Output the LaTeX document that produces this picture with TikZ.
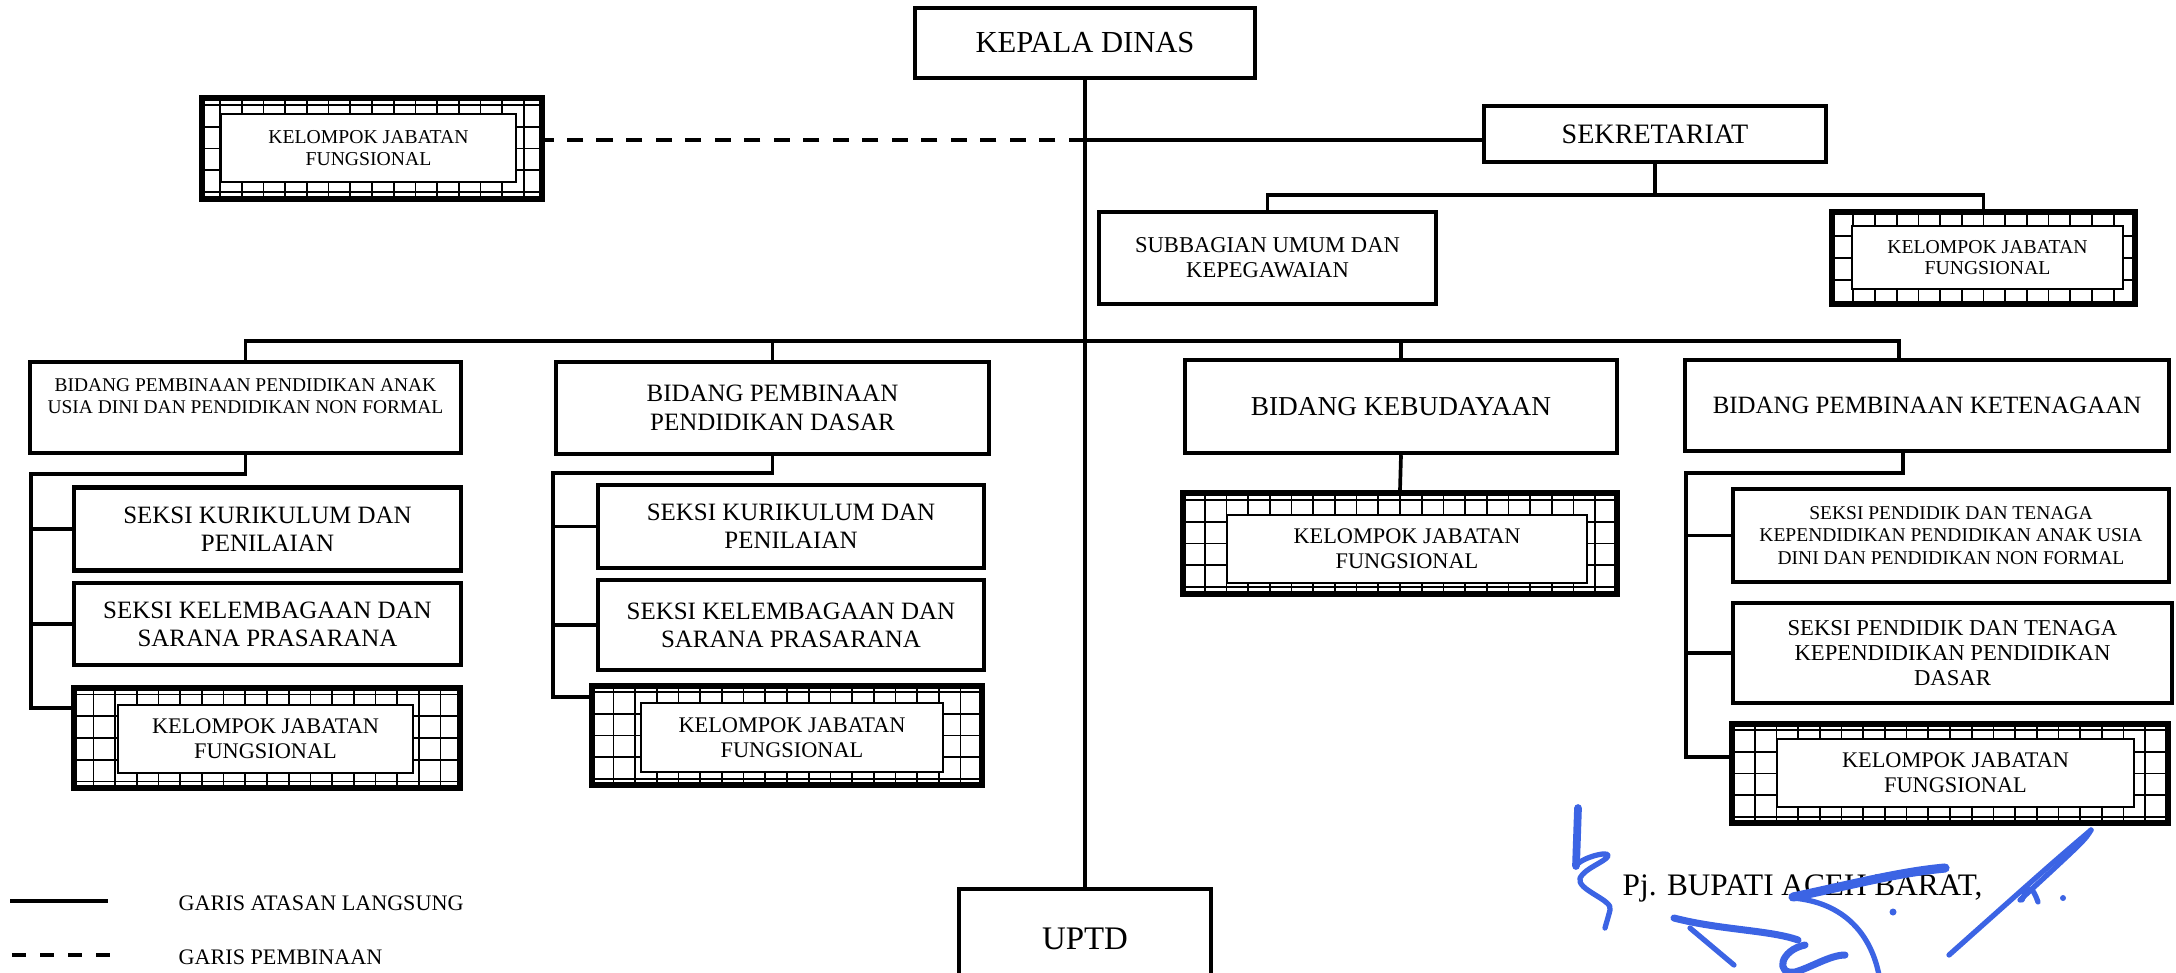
\documentclass[tikz,border=0pt]{standalone}
\usepackage{fontspec}
\setmainfont{Liberation Serif}
\usetikzlibrary{calc}
\definecolor{inkblue}{RGB}{60,100,228}
\def\fsz#1#2{\fontsize{#1}{#2}\selectfont}

\begin{document}
\begin{tikzpicture}[
	unit/.style={draw, line width=1.25pt, align=center, inner sep=0pt},
	kjf/.style={draw, line width=1.5pt, inner sep=0pt,
		path picture={\draw[line width=0.5pt, step=0.217] (path picture bounding box.south west) grid (path picture bounding box.north east);}},
	kjfin/.style={draw, fill=white, line width=0.4pt, align=center, inner sep=0pt},
	link/.style={line width=1.05pt},
	guide/.style={line width=1.05pt, dash pattern=on 4.6pt off 3.8pt},
	sig/.style={draw=inkblue, line width=1.5pt, line cap=round, line join=round}]
			%%%%% START %%%%%
			\useasboundingbox (0,0) rectangle (21.76,-9.72);
			
			\node[unit, minimum width=3.40cm, minimum height=0.70cm, font=\fsz{8.7}{10}] (kadis) at (10.85,-0.43) {KEPALA DINAS};
			\node[unit, minimum width=3.42cm, minimum height=0.56cm, font=\fsz{8}{9.5}] (sekre) at (16.55,-1.34) {SEKRETARIAT};
			
			\node[kjf, minimum width=3.40cm, minimum height=1.01cm] (kjfA) at (3.72,-1.485) {};
			\node[kjfin, minimum width=2.95cm, minimum height=0.68cm, font=\fsz{5.6}{6.2}] (kjfAin) at (3.685,-1.48) {KELOMPOK JABATAN\\FUNGSIONAL};
			
			\node[unit, minimum width=3.37cm, minimum height=0.92cm, font=\fsz{6.43}{7.1}] (subum) at (12.675,-2.58) {SUBBAGIAN UMUM DAN\\KEPEGAWAIAN};
			\node[kjf, minimum width=3.03cm, minimum height=0.92cm] (kjfB) at (19.835,-2.58) {};
			\node[kjfin, minimum width=2.71cm, minimum height=0.63cm, font=\fsz{5.6}{6.2}] (kjfBin) at (19.875,-2.575) {KELOMPOK JABATAN\\FUNGSIONAL};
			
			%%%%% BIDANG %%%%%
			\node[unit, minimum width=4.31cm, minimum height=0.91cm, font=\fsz{5.53}{6.5}] (bidA) at (2.455,-4.075) {BIDANG PEMBINAAN PENDIDIKAN ANAK\\USIA DINI DAN PENDIDIKAN NON FORMAL\\\mbox{}};
			\node[unit, minimum width=4.33cm, minimum height=0.92cm, font=\fsz{7.1}{8.25}] (bidB) at (7.725,-4.08) {BIDANG PEMBINAAN\\PENDIDIKAN DASAR};
			\node[unit, minimum width=4.32cm, minimum height=0.93cm, font=\fsz{7.77}{9}] (bidC) at (14.01,-4.065) {BIDANG KEBUDAYAAN};
			\node[unit, minimum width=4.84cm, minimum height=0.91cm, font=\fsz{7.08}{8.2}] (bidD) at (19.27,-4.055) {BIDANG PEMBINAAN KETENAGAAN};
			
			\node[unit, minimum width=3.87cm, minimum height=0.83cm, font=\fsz{7.1}{8}] (sA1) at (2.675,-5.29) {SEKSI KURIKULUM DAN\\PENILAIAN};
			\node[unit, minimum width=3.87cm, minimum height=0.82cm, font=\fsz{7.1}{8}] (sA2) at (2.675,-6.24) {SEKSI KELEMBAGAAN DAN\\SARANA PRASARANA};
			\node[kjf, minimum width=3.86cm, minimum height=1.00cm] (kjfC1) at (2.67,-7.38) {};
			\node[kjfin, minimum width=2.95cm, minimum height=0.68cm, font=\fsz{6.35}{7.1}] (kjfC1in) at (2.655,-7.39) {KELOMPOK JABATAN\\FUNGSIONAL};
			
			\node[unit, minimum width=3.86cm, minimum height=0.83cm, font=\fsz{7.1}{8}] (sB1) at (7.91,-5.265) {SEKSI KURIKULUM DAN\\PENILAIAN};
			\node[unit, minimum width=3.86cm, minimum height=0.90cm, font=\fsz{7.1}{8}] (sB2) at (7.91,-6.25) {SEKSI KELEMBAGAAN DAN\\SARANA PRASARANA};
			\node[kjf, minimum width=3.90cm, minimum height=0.99cm] (kjfC2) at (7.87,-7.355) {};
			\node[kjfin, minimum width=3.02cm, minimum height=0.69cm, font=\fsz{6.35}{7.1}] (kjfC2in) at (7.92,-7.375) {KELOMPOK JABATAN\\FUNGSIONAL};
			
			\node[kjf, minimum width=4.34cm, minimum height=1.01cm] (kjfC3) at (14.00,-5.435) {};
			\node[kjfin, minimum width=3.60cm, minimum height=0.68cm, font=\fsz{6.35}{7.1}] (kjfC3in) at (14.07,-5.49) {KELOMPOK JABATAN\\FUNGSIONAL};
			
			\node[unit, minimum width=4.36cm, minimum height=0.93cm, font=\fsz{5.55}{6.3}] (sD1) at (19.51,-5.355) {SEKSI PENDIDIK DAN TENAGA\\KEPENDIDIKAN PENDIDIKAN ANAK USIA\\DINI DAN PENDIDIKAN NON FORMAL};
			\node[unit, minimum width=4.39cm, minimum height=1.00cm, font=\fsz{6.46}{7.1}] (sD2) at (19.525,-6.53) {SEKSI PENDIDIK DAN TENAGA\\KEPENDIDIKAN PENDIDIKAN\\DASAR};
			\node[kjf, minimum width=4.36cm, minimum height=0.99cm] (kjfC4) at (19.50,-7.735) {};
			\node[kjfin, minimum width=3.57cm, minimum height=0.68cm, font=\fsz{6.35}{7.1}] (kjfC4in) at (19.555,-7.73) {KELOMPOK JABATAN\\FUNGSIONAL};
			
			\node[unit, minimum width=2.52cm, minimum height=1.00cm, font=\fsz{9.36}{11}] (uptd) at (10.85,-9.39) {UPTD};
			
			%%%%% LINES %%%%%
			\path (kadis.south) ++(0,-0.60) coordinate (jS);
			\path (kadis.south) ++(0,-2.61) coordinate (jB);
			\path (sekre.south) ++(0,-0.31) coordinate (jT);
			\coordinate (busA) at (0.31,-4.74);
			\coordinate (busB) at (5.53,-4.73);
			\coordinate (busD) at (16.86,-4.73);
			
			\draw[link] (kadis.south) -- (uptd.north);
			\draw[link] (jS) -- (jS -| sekre.west);
			\draw[guide] (jS) -- (jS -| kjfA.east);
			\draw[link] (sekre.south) -- (jT);
			\draw[link] (subum.north) |- (jT) -| (kjfB.north);
			
			\draw[link] (bidA.north) |- ([xshift=-2.8mm]bidD.north |- jB) -- ([xshift=-2.8mm]bidD.north);
			\draw[link] (bidB.north) -- (bidB.north |- jB);
			\draw[link] (bidC.north) -- (bidC.north |- jB);
			
			\draw[link] (bidA.south) |- (busA) |- ([yshift=3mm]kjfC1.west);
			\draw[link] (busA) |- (sA1.west);
			\draw[link] (busA) |- (sA2.west);
			
			\draw[link] (bidB.south) |- (busB) |- ([yshift=3.85mm]kjfC2.west);
			\draw[link] (busB) |- (sB1.west);
			\draw[link] (busB) |- (sB2.west);
			
			\draw[link] (bidC.south) -- (kjfC3.north);
			
			\draw[link] ([xshift=-2.4mm]bidD.south) |- (busD) |- ([yshift=1.65mm]kjfC4.west);
			\draw[link] (busD) |- (sD1.west);
			\draw[link] (busD) |- (sD2.west);
			
			%%%%% LEGEND %%%%%
			\draw[line width=1.05pt] (0.10,-9.01) -- (1.08,-9.01);
			\node[anchor=west, inner sep=0pt, font=\fsz{6.3}{7}] (lgA) at (1.78,-9.03) {GARIS ATASAN LANGSUNG};
			\draw[line width=1.05pt, dash pattern=on 4pt off 4pt] (0.12,-9.55) -- (1.12,-9.55);
			\node[anchor=west, inner sep=0pt, font=\fsz{6.3}{7}] (lgB) at (1.78,-9.57) {GARIS PEMBINAAN};
			
			\node[anchor=west, inner sep=0pt, font=\fsz{8.9}{10}] (pj) at (16.22,-8.88) {Pj. BUPATI ACEH BARAT,};
			
			%%%%% SIGNATURE %%%%%
			\draw[sig, line width=2.2pt] (15.78,-8.08) -- (15.76,-8.66);
			\draw[sig] (15.76,-8.66) .. controls (15.80,-8.58) and (16.10,-8.50) .. (16.08,-8.56) .. controls (16.05,-8.62) and (15.85,-8.68) .. (15.80,-8.78) .. controls (15.76,-8.90) and (16.14,-9.00) .. (16.10,-9.10) .. controls (16.08,-9.18) and (16.06,-9.24) .. (16.05,-9.28);
			\draw[sig, line width=2.6pt] (17.93,-8.97) .. controls (18.50,-8.85) and (19.00,-8.72) .. (19.45,-8.68);
			\draw[sig] (17.93,-8.98) .. controls (18.40,-9.02) and (18.70,-9.30) .. (18.79,-9.75);
			\fill[inkblue] (18.93,-9.12) circle (0.035);
			\draw[sig, line width=2pt] (16.74,-9.18) .. controls (17.20,-9.30) and (17.70,-9.30) .. (17.98,-9.40);
			\draw[sig] (16.90,-9.28) -- (17.34,-9.65);
			\draw[sig, line width=2pt] (18.05,-9.45) .. controls (17.80,-9.50) and (17.75,-9.75) .. (17.95,-9.72) .. controls (18.10,-9.68) and (18.30,-9.55) .. (18.45,-9.55);
			\draw[sig] (20.91,-8.30) .. controls (20.50,-8.65) .. (19.49,-9.55);
			\draw[sig] (20.91,-8.30) .. controls (20.85,-8.40) .. (20.20,-9.00);
			\draw[sig] (20.22,-9.00) .. controls (20.28,-8.85) and (20.32,-8.85) .. (20.38,-9.02);
			\fill[inkblue] (20.63,-8.98) circle (0.03);
			%%%%% END %%%%%
\end{tikzpicture}
\end{document}
